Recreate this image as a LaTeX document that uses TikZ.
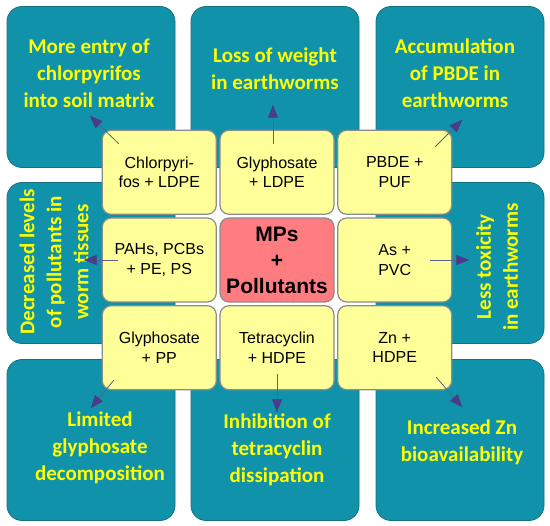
\documentclass[tikz,border=0pt]{standalone}
\usepackage{fontspec}
\setmainfont{Liberation Sans}
\newfontfamily\calfont{Carlito}
\usetikzlibrary{arrows.meta, positioning}
\definecolor{Teal}{HTML}{1093AA}
\definecolor{TealDark}{HTML}{17707F}
\definecolor{Lemon}{HTML}{FFFF00}
\definecolor{PaleYellow}{HTML}{FFFF99}
\definecolor{Rose}{HTML}{FF7C80}
\definecolor{EdgeGray}{HTML}{8C8C8C}
\definecolor{ArrowInk}{HTML}{4B3C8A}
\definecolor{ArrowLine}{HTML}{5D5F86}
\tikzset{
  outbox/.style={rectangle, rounded corners=15pt, minimum width=168pt,
    minimum height=161pt, draw=TealDark, fill=Teal, line width=0.8pt},
  outtxt/.style={align=center, text=Lemon,
    font=\calfont\bfseries\fontsize{21}{27}\selectfont},
  mpbox/.style={rectangle, rounded corners=9pt, minimum width=114pt,
    minimum height=84pt, inner sep=1pt, draw=EdgeGray, fill=PaleYellow,
    line width=1.2pt, align=center, font=\fontsize{16}{19.5}\selectfont},
  corebox/.style={mpbox, fill=Rose, font=\bfseries\fontsize{21}{26}\selectfont},
  arr/.style={-{Triangle[length=13pt, width=10pt, color=ArrowInk]},
    line width=0.8pt, color=ArrowLine},
}
\begin{document}
\begin{tikzpicture}[x=1pt, y=-1pt, node distance=2.5pt and 2.5pt]
  \useasboundingbox (0,0) rectangle (550,526);

  % effect boxes round the grid
  \node (outTL) [outbox] at (91,87)   {};
  \node (outTM) [outbox] at (275,87)  {};
  \node (outTR) [outbox] at (460,87)  {};
  \node (outML) [outbox] at (91,263)  {};
  \node (outMR) [outbox] at (460,263) {};
  \node (outBL) [outbox] at (91,440)  {};
  \node (outBM) [outbox] at (275,440) {};
  \node (outBR) [outbox] at (460,440) {};

  \node (entry) [outtxt] at (89,73)   {More entry of\\chlorpyrifos\\into soil matrix};
  \node (loss)  [outtxt] at (275,69)  {Loss of weight\\in earthworms};
  \node (accu)  [outtxt] at (455,73)  {Accumulation\\of PBDE in\\earthworms};
  \node (decr)  [outtxt, rotate=90] at (54,262)  {Decreased levels\\of pollutants in\\worm tissues};
  \node (tox)   [outtxt, rotate=90] at (497,267) {Less toxicity\\in earthworms};
  \node (limit) [outtxt] at (100,448) {Limited\\glyphosate\\decomposition};
  \node (inhib) [outtxt] at (277,450) {Inhibition of\\tetracyclin\\dissipation};
  \node (zinc)  [outtxt] at (462,442) {Increased Zn\\bioavailability};

  % MP + pollutant pairs
  \node (core) [corebox] at (277,260)            {MPs\\+\\Pollutants};
  \node (chl)  [mpbox, above left=of core]       {Chlorpyri-\\fos + LDPE};
  \node (gly)  [mpbox, above=of core]            {Glyphosate\\+ LDPE};
  \node (pbde) [mpbox, above right=of core]      {PBDE +\\PUF};
  \node (pah)  [mpbox, left=of core]             {PAHs, PCBs\\+ PE, PS};
  \node (arsn) [mpbox, right=of core]            {As +\\PVC};
  \node (glp)  [mpbox, below left=of core]       {Glyphosate\\+ PP};
  \node (tet)  [mpbox, below=of core]            {Tetracyclin\\+ HDPE};
  \node (zn)   [mpbox, below right=of core]      {Zn +\\HDPE};

  \draw[arr] ([xshift=17pt,yshift=-14pt]chl.north west)   -- ([xshift=-12pt,yshift=14pt]chl.north west);
  \draw[arr] ([xshift=-4pt,yshift=-14pt]gly.north)        -- ([xshift=-4pt,yshift=25pt]gly.north);
  \draw[arr] ([xshift=-17pt,yshift=-17pt]pbde.north east) -- ([xshift=10pt,yshift=10pt]pbde.north east);
  \draw[arr] ([xshift=16pt]pah.west)                      -- ([xshift=-18pt]pah.west);
  \draw[arr] ([xshift=-22pt]arsn.east)                    -- ([xshift=17pt]arsn.east);
  \draw[arr] ([xshift=12pt,yshift=10pt]glp.south west)    -- ([xshift=-11pt,yshift=-18pt]glp.south west);
  \draw[arr] ([yshift=16pt]tet.south)                     -- ([yshift=-22pt]tet.south);
  \draw[arr] ([xshift=-16pt,yshift=13pt]zn.south east)    -- ([xshift=10pt,yshift=-17pt]zn.south east);
\end{tikzpicture}
\end{document}
